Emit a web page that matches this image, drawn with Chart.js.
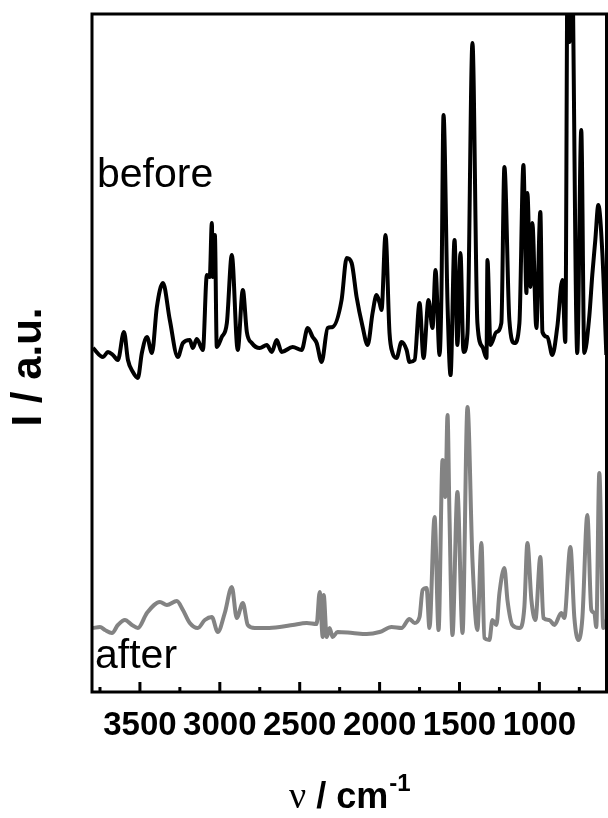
<!DOCTYPE html>
<html>
<head>
<meta charset="utf-8">
<script src="https://cdn.jsdelivr.net/npm/chart.js@4.4.0/dist/chart.umd.min.js"></script>
<style>
    body { margin: 0; background: #fff; }
    #box { width: 608px; height: 818px; }
</style>
</head>
<body>
<div id="box"><canvas id="chartIR"></canvas></div>
<script>
// tick labels of the wavenumber axis
const tickLabels = [3500, 3000, 2500, 2000, 1500, 1000];
const minorTicks = [3750, 3250, 2750, 2250, 1750, 1250, 750];

// spectrum "before" (wavenumber / intensity, a.u.)
const beforeWn = [3794, 3731, 3700, 3669, 3638, 3600, 3575, 3544, 3513, 3488, 3456, 3425, 3394, 3356, 3313,
    3263, 3231, 3188, 3169, 3144, 3106, 3081, 3063, 3050, 3044, 3031, 3019, 2988, 2956, 2925, 2888, 2856,
    2831, 2800, 2750, 2706, 2675, 2644, 2613, 2544, 2488, 2450, 2419, 2394, 2363, 2325, 2294, 2238, 2206,
    2175, 2144, 2106, 2075, 2044, 2019, 2000, 1988, 1963, 1938, 1919, 1894, 1863, 1831, 1813, 1781, 1750,
    1725, 1694, 1669, 1650, 1625, 1613, 1600, 1575, 1556, 1531, 1513, 1494, 1475, 1450, 1419, 1388, 1356,
    1331, 1325, 1306, 1269, 1238, 1219, 1188, 1156, 1125, 1100, 1081, 1075, 1056, 1044, 1019, 994, 981,
    950, 919, 888, 856, 838, 822, 812, 800, 763, 738, 719, 688, 669, 650, 631, 606, 581];
const beforeI = [344, 335, 340, 337, 332, 360, 332, 320, 314, 339, 355, 339, 385, 409, 372,
    335, 349, 352, 344, 353, 342, 417, 415, 469, 415, 457, 345, 355, 369, 437, 342, 402,
    360, 349, 344, 347, 340, 352, 340, 345, 342, 364, 355, 349, 330, 364, 365, 392, 434,
    429, 395, 365, 347, 379, 397, 389, 382, 457, 359, 339, 334, 350, 342, 330, 332, 389,
    334, 392, 364, 422, 337, 399, 577, 389, 317, 452, 347, 439, 340, 359, 649, 369, 345,
    334, 432, 347, 360, 369, 525, 372, 349, 369, 527, 399, 499, 405, 469, 364, 480, 360,
    355, 337, 365, 412, 350, 772, 650, 772, 339, 562, 339, 375, 417, 452, 487, 439, 337];

// spectrum "after"
const afterWn = [3794, 3750, 3719, 3675, 3638, 3594, 3550, 3513, 3456, 3375, 3331, 3269, 3231, 3188, 3138,
    3094, 3050, 3013, 2969, 2925, 2894, 2856, 2825, 2781, 2706, 2625, 2544, 2456, 2394, 2375, 2356, 2350,
    2331, 2313, 2294, 2263, 2169, 2081, 2000, 1925, 1863, 1813, 1781, 1750, 1731, 1706, 1688, 1656, 1631,
    1606, 1588, 1575, 1563, 1544, 1513, 1481, 1450, 1419, 1388, 1363, 1344, 1313, 1294, 1269, 1250, 1219,
    1200, 1169, 1125, 1094, 1075, 1050, 1025, 994, 975, 938, 906, 863, 844, 806, 781, 756, 731, 700, 675,
    656, 644, 625, 600, 581];
const afterI = [64, 65, 62, 59, 67, 72, 67, 64, 79, 90, 87, 91, 82, 69, 64,
    72, 75, 60, 79, 105, 74, 89, 67, 64, 64, 65, 67, 69, 68, 100, 55, 97,
    55, 64, 55, 60, 59, 58, 60, 65, 64, 73, 69, 75, 102, 104, 64, 175, 62,
    232, 195, 277, 179, 57, 200, 59, 285, 132, 62, 149, 54, 52, 72, 67, 99, 124,
    92, 67, 64, 85, 149, 92, 72, 135, 74, 72, 67, 79, 74, 145, 74, 52, 74, 177, 82,
    79, 65, 219, 64, 72];

function toPoints(wn, inten) {
    var pts = [];
    for (var i = 0; i < wn.length; i++) {
        pts.push({ x: wn[i], y: inten[i] });
    }
    return pts;
}

// frame, inner ticks and texts
const framePlugin = {
    id: 'frame',
    afterDraw: function (chart) {
        var ctx = chart.ctx;
        var a = chart.chartArea;
        var xs = chart.scales.x;
        ctx.save();
        ctx.strokeStyle = '#000';
        ctx.lineWidth = 3;
        ctx.strokeRect(a.left, a.top, a.right - a.left, a.bottom - a.top);

        ctx.beginPath();
        tickLabels.forEach(function (v) {
            var px = xs.getPixelForValue(v);
            ctx.moveTo(px, a.bottom);
            ctx.lineTo(px, a.bottom - 10);
        });
        minorTicks.forEach(function (v) {
            var px = xs.getPixelForValue(v);
            ctx.moveTo(px, a.bottom);
            ctx.lineTo(px, a.bottom - 5);
        });
        ctx.stroke();

        ctx.fillStyle = '#000';
        ctx.textBaseline = 'alphabetic';
        ctx.textAlign = 'left';
        ctx.font = '41px "Liberation Sans"';
        ctx.fillText('before', a.left + 5, 187);
        ctx.fillText('after', a.left + 3, 668);

        // x axis title: ν / cm-1
        var cx = (a.left + a.right) / 2;
        var fNu = '38px "Liberation Serif"';
        var fMain = 'bold 36px "Liberation Sans"';
        var fSup = 'bold 24px "Liberation Sans"';
        ctx.font = fNu; var w1 = ctx.measureText('ν').width;
        ctx.font = fMain; var w2 = ctx.measureText(' / cm').width;
        ctx.font = fSup; var w3 = ctx.measureText('-1').width;
        var x0 = cx - (w1 + w2 + w3) / 2;
        ctx.font = fNu; ctx.fillText('ν', x0, 808);
        ctx.font = fMain; ctx.fillText(' / cm', x0 + w1, 808);
        ctx.font = fSup; ctx.fillText('-1', x0 + w1 + w2 + 1, 791);

        // y axis title
        ctx.translate(29, 367);
        ctx.rotate(-Math.PI / 2);
        ctx.textAlign = 'center';
        ctx.textBaseline = 'middle';
        ctx.font = 'bold 42px "Liberation Sans"';
        ctx.fillText('I / a.u.', 0, 0);
        ctx.restore();
    }
};

const ctxIR = document.getElementById('chartIR');
var chartIR = new Chart(ctxIR, {
    type: 'line',
    data: {
        datasets: [{
            label: 'before',
            data: toPoints(beforeWn, beforeI),
            borderColor: '#000000',
            borderWidth: 4,
            pointRadius: 0,
            cubicInterpolationMode: 'monotone'
        }, {
            label: 'after',
            data: toPoints(afterWn, afterI),
            borderColor: '#838383',
            borderWidth: 4,
            pointRadius: 0,
            cubicInterpolationMode: 'monotone'
        }]
    },
    options: {
        responsive: true,
        maintainAspectRatio: false,
        animation: false,
        layout: { padding: { left: 92, top: 14, right: 1.5, bottom: 0 } },
        plugins: {
            legend: { display: false },
            tooltip: { enabled: false }
        },
        scales: {
            x: {
                type: 'linear',
                reverse: true,
                min: 580,
                max: 3800,
                grid: { display: false },
                border: { display: false },
                afterBuildTicks: function (scale) {
                    scale.ticks = tickLabels.map(function (v) { return { value: v }; });
                },
                afterFit: function (scale) {
                    scale.height = 126;
                },
                ticks: {
                    autoSkip: false,
                    maxRotation: 0,
                    padding: 6,
                    color: '#000',
                    font: { family: 'Liberation Sans', size: 33, weight: 'bold' },
                    callback: function (value) { return String(value); }
                }
            },
            y: {
                display: false,
                min: 0,
                max: 678
            }
        }
    },
    plugins: [framePlugin]
});
</script>
</body>
</html>
